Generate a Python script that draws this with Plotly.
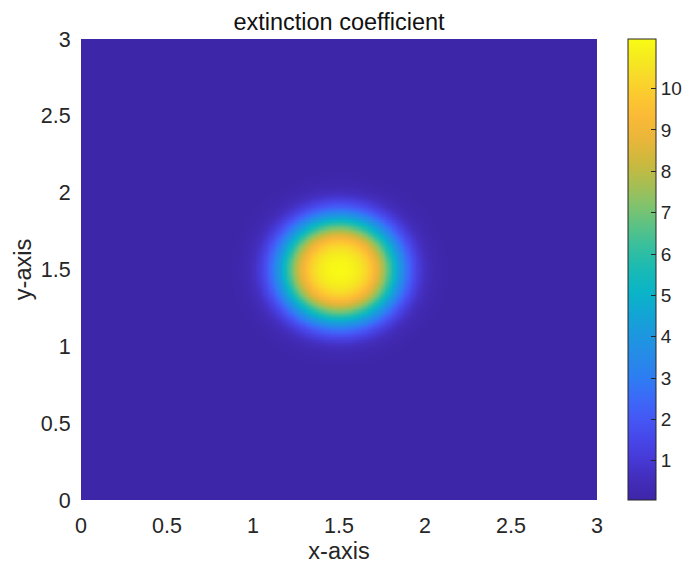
import math
import numpy as np
import plotly.graph_objects as go

# Grid of the computational domain
x_vals = np.linspace(0.0, 3.0, 301)
y_vals = np.linspace(0.0, 3.0, 301)

# Extinction-coefficient blob parameters (smoothed disk)
center_x = 1.5
center_y = 1.5
peak_value = 11.2
background_value = 0.05
disk_radius = 0.31
edge_width = 0.165

x_ticks = [0, 0.5, 1, 1.5, 2, 2.5, 3]
y_ticks = [0, 0.5, 1, 1.5, 2, 2.5, 3]
cbar_ticks = [1, 2, 3, 4, 5, 6, 7, 8, 9, 10]

# MATLAB parula colormap
parula = [
    [0.000, "rgb(62,38,168)"],
    [0.050, "rgb(67,46,190)"],
    [0.090, "rgb(70,58,215)"],
    [0.130, "rgb(71,70,232)"],
    [0.170, "rgb(69,85,243)"],
    [0.220, "rgb(60,105,248)"],
    [0.265, "rgb(45,125,242)"],
    [0.310, "rgb(38,138,232)"],
    [0.360, "rgb(28,152,222)"],
    [0.405, "rgb(18,165,212)"],
    [0.450, "rgb(10,180,200)"],
    [0.500, "rgb(25,186,180)"],
    [0.550, "rgb(55,191,158)"],
    [0.600, "rgb(95,194,130)"],
    [0.640, "rgb(130,195,108)"],
    [0.685, "rgb(168,190,82)"],
    [0.730, "rgb(202,185,62)"],
    [0.780, "rgb(232,182,58)"],
    [0.830, "rgb(250,185,55)"],
    [0.875, "rgb(252,200,48)"],
    [0.920, "rgb(248,218,42)"],
    [0.960, "rgb(245,235,30)"],
    [1.000, "rgb(249,251,20)"],
]

X, Y = np.meshgrid(x_vals, y_vals)
R = np.hypot(X - center_x, Y - center_y)
erf = np.vectorize(math.erf)
Z = background_value + (peak_value - background_value) * 0.5 * (1.0 - erf((R - disk_radius) / edge_width))

# plot box in pixels
PL, PR, PT, PB = 81, 597, 39, 500
W, H = 690, 569
plot_w = PR - PL

fig = go.Figure(
    go.Heatmap(
        x=x_vals,
        y=y_vals,
        z=Z,
        colorscale=parula,
        zmin=background_value,
        zmax=peak_value,
        zsmooth="best",
        colorbar=dict(
            x=(628 - PL) / plot_w,
            xanchor="left",
            xpad=0,
            ypad=0,
            y=0.5,
            yanchor="middle",
            len=1.0,
            lenmode="fraction",
            thickness=28,
            outlinewidth=1,
            outlinecolor="#262626",
            tickvals=cbar_ticks,
            ticks="inside",
            ticklen=5,
            tickcolor="#262626",
            tickprefix=" ",
            tickfont=dict(family="Liberation Sans, Arial", size=19, color="#262626"),
        ),
    )
)

fig.update_layout(
    width=W,
    height=H,
    margin=dict(l=PL, r=W - PR, t=PT, b=H - PB, autoexpand=False),
    paper_bgcolor="white",
    plot_bgcolor="white",
    font=dict(family="Liberation Sans, Arial", color="#262626"),
    title=dict(
        text="extinction coefficient",
        x=(PL + PR) / 2 / W,
        xanchor="center",
        y=1 - 22 / H,
        yanchor="middle",
        font=dict(size=23.5, color="#111111"),
    ),
    xaxis=dict(
        range=[0, 3],
        tickvals=x_ticks,
        ticktext=[f"{v:g}" for v in x_ticks],
        ticks="outside",
        ticklen=6,
        tickcolor="rgba(0,0,0,0)",
        showgrid=False,
        zeroline=False,
        showline=False,
        tickfont=dict(size=21.5),
        title=dict(text="x-axis", font=dict(size=23.5), standoff=4),
    ),
    yaxis=dict(
        range=[0, 3],
        tickvals=y_ticks,
        ticktext=[f"{v:g}" for v in y_ticks],
        ticks="outside",
        ticklen=5,
        tickcolor="rgba(0,0,0,0)",
        showgrid=False,
        zeroline=False,
        showline=False,
        tickfont=dict(size=21.5),
        title=dict(text="y-axis", font=dict(size=23.5), standoff=2),
    ),
)

fig.write_html("out.html")
